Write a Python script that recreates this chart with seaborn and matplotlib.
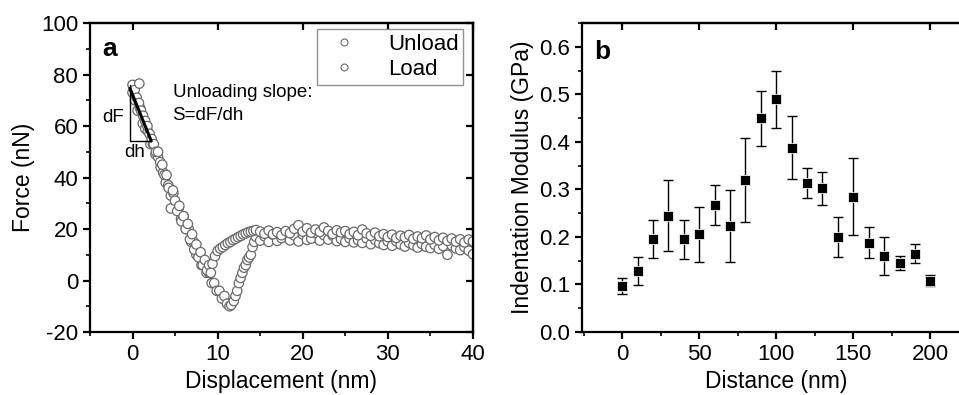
import numpy as np
import pandas as pd
import seaborn as sns
import matplotlib.pyplot as plt
from matplotlib.ticker import MultipleLocator

# ---- panel a: force-displacement curve ----
unload_x = [0.0, 0.3, 0.6, 0.9, 1.2, 1.5, 1.8, 2.1, 2.4, 2.7, 3.0, 3.3, 3.6, 3.9, 4.2, 4.5, 4.8, 5.1, 5.4, 5.7,
            6.0, 6.3, 6.6, 6.9, 7.2, 7.5, 7.8, 8.1, 8.4, 8.7, 9.0, 9.3, 9.6, 9.9, 10.2, 10.5, 10.8, 11.1, 11.4, 11.6,
            11.9, 12.1, 12.3, 12.5, 12.7, 12.9, 13.1, 13.3, 13.5, 13.7, 13.9, 14.1, 14.3, 14.5,
            15.0, 15.5, 16.0, 16.5, 17.0, 17.5, 18.0, 18.5, 19.0, 19.5, 20.0, 20.5, 21.0, 21.5, 22.0, 22.5,
            23.0, 23.5, 24.0, 24.5, 25.0, 25.5, 26.0, 26.5, 27.0, 27.5, 28.0, 28.5, 29.0, 29.5, 30.0, 30.5,
            31.0, 31.5, 32.0, 32.5, 33.0, 33.5, 34.0, 34.5, 35.0, 35.5, 36.0, 36.5, 37.0, 37.5, 38.0, 38.5,
            39.0, 39.5, 40.0]
unload_y = [73, 70, 66, 67, 61, 59, 58, 53, 53, 49, 48, 44, 42, 38, 37, 33, 34, 29, 28, 24,
            25, 20, 20, 15, 15, 10, 10, 6, 6, 3, 3, -1, -1, -4, -4, -7, -6, -9, -10, -9.5,
            -8, -6, -4, -1, 1, 3, 5, 6, 8, 9, 10, 13, 15, 17,
            15.5, 17.2, 15.0, 17.8, 15.4, 16.5, 18.1, 15.6, 17.5, 15.2, 17.9, 15.8, 16.3, 18.4, 15.5, 17.6,
            15.9, 17.5, 15.3, 16.1, 15.0, 16.4, 14.8, 15.7, 14.6, 16.4, 14.1, 15.8, 14.5, 13.8, 15.2, 13.5,
            15.2, 14.0, 13.2, 14.6, 13.7, 12.8, 14.2, 13.1, 12.6, 13.9, 12.3, 13.4, 10.0, 13.6, 12.5, 11.8,
            13.0, 11.6, 10.2]

load_x = [0.0, 0.25, 0.5, 0.75, 0.8, 1.0, 1.25, 1.5, 1.75, 2.0, 2.25, 2.5, 2.75, 3.0, 3.25, 3.5, 3.75, 4.0,
          4.25, 4.5, 4.75, 5.0, 5.25, 5.5, 5.75, 6.0, 6.25, 6.5, 6.75, 7.0, 7.25, 7.5, 7.75, 8.0, 8.25,
          8.5, 8.75, 9.0, 9.2,
          9.4, 9.7, 10.0, 10.3, 10.6, 10.9, 11.2, 11.5, 11.8, 12.1, 12.4, 12.7, 13.0, 13.3, 13.6, 13.9, 14.2,
          14.5, 15.0, 15.5, 16.0, 16.5, 17.0, 17.5, 18.0, 18.5, 19.0, 19.5, 20.0, 20.5, 21.0, 21.5, 22.0,
          22.5, 23.0, 23.5, 24.0, 24.5, 25.0, 25.5, 26.0, 26.5, 27.0, 27.5, 28.0, 28.5, 29.0, 29.5, 30.0,
          30.5, 31.0, 31.5, 32.0, 32.5, 33.0, 33.5, 34.0, 34.5, 35.0, 35.5, 36.0, 36.5, 37.0, 37.5, 38.0,
          38.5, 39.0, 39.5, 40.0]
load_y = [76, 74, 71, 69, 76.5, 66, 64, 62, 60, 57, 55, 53, 50, 50, 46, 45, 41, 41,
          36, 28, 35, 31, 27, 29, 23, 25, 20, 22, 16, 18, 12, 14, 9, 11, 6,
          8, 4, 6, 3,
          6.5, 9.5, 11.5, 12.4, 13.0, 13.8, 14.5, 15.0, 15.7, 16.2, 16.8, 17.3, 17.9, 18.3, 18.8, 19.0, 19.3,
          19.6, 19.0, 18.2, 19.4, 18.0, 18.8, 17.6, 19.2, 18.4, 20.1, 21.5, 19.0, 20.3, 18.6, 19.8, 18.9,
          20.6, 19.3, 18.1, 19.5, 18.7, 19.2, 18.0, 18.9, 17.6, 19.8, 18.3, 17.4, 18.6, 17.2, 18.0, 16.9,
          17.8, 16.5, 17.4, 16.8, 17.7, 16.2, 17.1, 16.4, 17.5, 16.0, 16.9, 15.6, 16.6, 15.4, 16.3, 15.1,
          16.0, 14.8, 15.9, 15.2]

# ---- panel b: indentation modulus vs distance ----
distance = [0, 10, 20, 30, 40, 50, 60, 70, 80, 90, 100, 110, 120, 130, 140, 150, 160, 170, 180, 190, 200]
modulus = [0.097, 0.128, 0.195, 0.245, 0.195, 0.206, 0.268, 0.223, 0.320, 0.450, 0.490, 0.388, 0.313,
           0.302, 0.199, 0.285, 0.188, 0.160, 0.145, 0.165, 0.108]
modulus_err = [0.017, 0.030, 0.040, 0.075, 0.041, 0.058, 0.042, 0.075, 0.088, 0.058, 0.060, 0.066, 0.032,
               0.034, 0.042, 0.081, 0.033, 0.040, 0.015, 0.020, 0.011]

sns.set_style("ticks")
plt.rcParams['font.family'] = ['Liberation Sans', 'DejaVu Sans']
plt.rcParams['axes.unicode_minus'] = False
plt.rcParams['axes.linewidth'] = 1.6
plt.rcParams['text.color'] = 'black'
plt.rcParams['axes.labelcolor'] = 'black'
plt.rcParams['axes.edgecolor'] = 'black'
plt.rcParams['xtick.color'] = 'black'
plt.rcParams['ytick.color'] = 'black'

fig = plt.figure(figsize=(9.59, 3.95), dpi=100)
ax1 = fig.add_axes([0.0938, 0.1595, 0.3994, 0.782])
ax2 = fig.add_axes([0.6069, 0.1595, 0.4050, 0.782])

df_a = pd.concat([
    pd.DataFrame({"x": unload_x, "y": unload_y, "curve": "Unload"}),
    pd.DataFrame({"x": load_x, "y": load_y, "curve": "Load"}),
])
sns.scatterplot(data=df_a, x="x", y="y", hue="curve", palette={"Unload": "white", "Load": "white"},
                edgecolor="#6a6a6a", linewidth=0.9, s=46, ax=ax1, legend=False)
h1, = ax1.plot([], [], "o", mfc="white", mec="#6a6a6a", ms=5, mew=0.8, label="Unload")
h2, = ax1.plot([], [], "o", mfc="white", mec="#6a6a6a", ms=5, mew=0.8, label="Load")
leg = ax1.legend(handles=[h1, h2], loc="upper right", fontsize=16, frameon=True, fancybox=False,
                 edgecolor="#777777", borderpad=0.2, labelspacing=0.2, handletextpad=1.0,
                 borderaxespad=0.0, bbox_to_anchor=(0.975, 0.98))
leg.get_frame().set_linewidth(1.0)

# slope triangle
ax1.plot([-0.3, 2.2], [74.7, 54.2], color="black", lw=2.2)
ax1.plot([-0.3, -0.3, 2.2], [76, 54.2, 54.2], color="black", lw=1.0)
ax1.text(-2.3, 63.5, "dF", fontsize=13.5, ha="center", va="center")
ax1.text(0.2, 49.7, "dh", fontsize=13.5, ha="center", va="center")
ax1.text(4.7, 73, "Unloading slope:", fontsize=13.5, ha="left", va="center")
ax1.text(4.7, 64, "S=dF/dh", fontsize=13.5, ha="left", va="center")
ax1.text(-2.7, 90, "a", fontsize=19, fontweight="bold", ha="center", va="center")

ax1.set_xlim(-5, 40)
ax1.set_ylim(-20, 100)
ax1.set_xticks([0, 10, 20, 30, 40])
ax1.set_yticks([-20, 0, 20, 40, 60, 80, 100])
ax1.xaxis.set_minor_locator(MultipleLocator(5))
ax1.yaxis.set_minor_locator(MultipleLocator(10))
ax1.set_xlabel("Displacement (nm)", fontsize=16.5)
ax1.set_ylabel("Force (nN)", fontsize=16.5)

# panel b
ax2.errorbar(distance, modulus, yerr=modulus_err, fmt="none", ecolor="black", elinewidth=1.0,
             capsize=3.5, capthick=1.0)
sns.scatterplot(x=distance, y=modulus, marker="s", color="black", s=46, ax=ax2, zorder=3)
ax2.text(-13, 0.59, "b", fontsize=19, fontweight="bold", ha="center", va="center")
ax2.set_xlim(-26, 226)
ax2.set_ylim(0, 0.65)
ax2.set_xticks([0, 50, 100, 150, 200])
ax2.set_yticks([0.0, 0.1, 0.2, 0.3, 0.4, 0.5, 0.6])
ax2.set_yticklabels(["0.0", "0.1", "0.2", "0.3", "0.4", "0.5", "0.6"])
ax2.xaxis.set_minor_locator(MultipleLocator(25))
ax2.yaxis.set_minor_locator(MultipleLocator(0.05))
ax2.set_xlabel("Distance (nm)", fontsize=16.5)
ax2.set_ylabel("Indentation Modulus (GPa)", fontsize=16.5)

for ax in (ax1, ax2):
    ax.tick_params(which="major", direction="out", length=5, width=1.6, labelsize=16, colors="black")
    ax.tick_params(which="minor", direction="out", length=3, width=1.2)
    for sp in ax.spines.values():
        sp.set_visible(True)
        sp.set_linewidth(1.6)
    top = ax.secondary_xaxis("top")
    top.set_xticks(ax.get_xticks())
    top.tick_params(direction="in", length=5, width=1.6, labeltop=False)
    right = ax.secondary_yaxis("right")
    right.set_yticks(ax.get_yticks())
    right.tick_params(direction="in", length=5, width=1.6, labelright=False)

fig.savefig("out.png", dpi=100)
